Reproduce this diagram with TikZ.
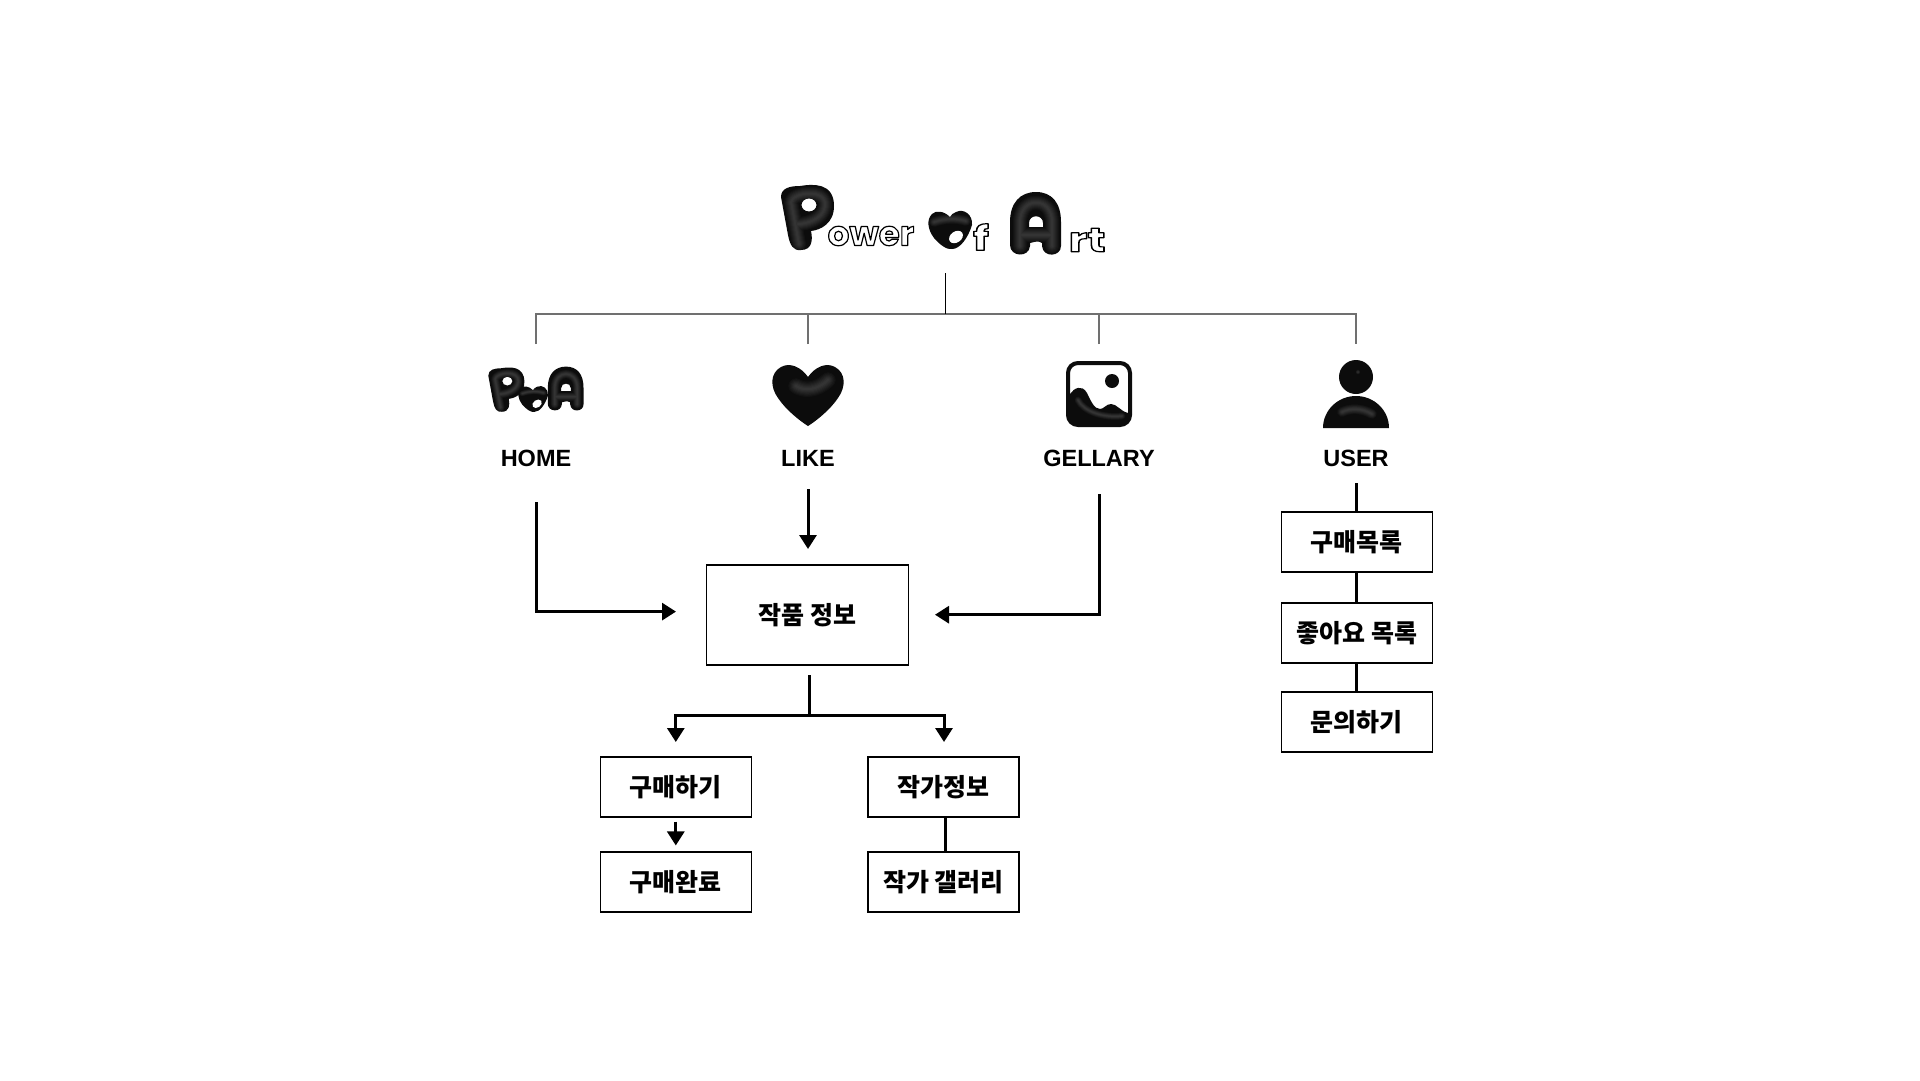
\documentclass[tikz,border=0pt]{standalone}
\usepackage{fontspec}
\setmainfont{Liberation Sans}
\newfontfamily\krfont{Noto Sans CJK KR}
\newfontfamily\titlefont{Poppins}
\usetikzlibrary{arrows.meta}

\definecolor{puffblack}{HTML}{0C0C0C}
\definecolor{treegray}{HTML}{707070}

% soft grey ridge on the puffy shapes
\newcommand{\glowline}[2]{\foreach \w in {14,12,10,8,6,4,2}
    \draw[white, opacity=.028, line cap=round, line join=round, line width=#1*\w pt] #2;}
\newcommand{\outlinetext}[1]{{\color{white}\special{pdf:code 0 G 1.2 w 2 Tr 1 j}#1\special{pdf:code 0 Tr 1 w}}}

\tikzset{
    infobox/.style={draw=black, line width=1.1pt, fill=white, minimum width=151pt, minimum height=60pt,
        font=\fontsize{25}{28}\selectfont\krfont\bfseries},
    menulabel/.style={font=\fontsize{23.5}{28}\selectfont\bfseries},
    titlebit/.style={font=\fontsize{34}{40}\selectfont\titlefont\bfseries, inner sep=0pt},
    treeline/.style={treegray, line width=1.6pt},
    plainline/.style={draw=black, line width=3pt},
    flow/.style={plainline, -{Triangle[length=14pt,width=17pt]}},
    puff/.style={fill=puffblack, even odd rule},
    pics/puffP/.style={code={
        \fill[puff] (-26,-21) .. controls (-26,-30) and (-17,-32) .. (-7,-32)
            .. controls (5,-34) and (27,-36) .. (27,-12) .. controls (27,6) and (13,12) .. (4,13)
            .. controls (6,22) and (5,32) .. (-6,32) .. controls (-14,33) and (-17,27) .. (-19,17) -- cycle
            (2,-13) ellipse [x radius=7.5, y radius=6.5];
        \glowline{#1}{(-8,26) -- (-16,-16) .. controls (-14,-26) and (20,-30) .. (18,-12) .. controls (16,2) and (-2,6) .. (-9,6)}
    }},
    pics/puffA/.style={code={
        \fill[puff] (-26,21) -- (-26,-2) .. controls (-26,-21) and (-16,-32) .. (0,-32)
            .. controls (16,-32) and (25,-21) .. (25,-2) -- (25,22) .. controls (25,33) and (7,34) .. (6,22)
            -- (6,19) .. controls (2,17) .. (-6,19) -- (-6,22) .. controls (-7,34) and (-26,33) .. (-26,21) -- cycle
            (-7,3) -- (-7,-1) .. controls (-7,-10) and (7,-10) .. (7,-1) -- (7,3) -- cycle;
        \glowline{#1}{(-16,22) -- (-16,-2) .. controls (-16,-28) and (16,-28) .. (16,-2) -- (16,22) (-14,11) -- (14,11)}
    }},
    pics/puffO/.style={code={
        \fill[puff] (0,-13) .. controls (-6,-19) and (-14,-20) .. (-18,-16) .. controls (-24,-10) and (-22,0) .. (-16,8)
            .. controls (-10,15) and (-3,20) .. (2,19) .. controls (10,19) and (18,8) .. (22,-5)
            .. controls (23,-15) and (14,-22) .. (6,-18) .. controls (3,-17) and (1,-15) .. (0,-13) -- cycle;
        \glowline{#1}{(-16,-8) .. controls (-4,-12) and (6,-12) .. (16,-9)}
        \fill[white, shift={(6,7)}, rotate=35] (0,0) ellipse [x radius=7.5, y radius=5.5];
    }},
    pics/puffheart/.style={code={
        \fill[puff] (0,-18) .. controls (-7,-28) and (-18,-33) .. (-27,-28) .. controls (-38,-22) and (-38,-8) .. (-30,3)
            .. controls (-22,15) and (-8,26) .. (0,31) .. controls (8,26) and (22,15) .. (30,3)
            .. controls (38,-8) and (38,-22) .. (27,-28) .. controls (18,-33) and (7,-28) .. (0,-18) -- cycle;
        \glowline{#1}{(-12,-9) .. controls (-4,-4) and (8,-4) .. (20,-15)}
    }},
}

\begin{document}
\begin{tikzpicture}[x=1pt,y=-1pt]
    \useasboundingbox (0,0) rectangle (1920,1080);
    \fill[white] (0,0) rectangle (1920,1080);

    % Title logo
    \pic at (807,218) {puffP=1};
    \node[titlebit] (titleower) at (871,236) {\outlinetext{ower}};
    \pic at (950,230) {puffO=.7};
    \node[titlebit, xscale=1.3] (titlef) at (981,237) {\outlinetext{f}};
    \pic at (1036,224) {puffA=1};
    \node[titlebit, xscale=1.3] (titlert) at (1087,240) {\outlinetext{rt}};

    % Menu icons
    \pic[scale=.68] at (506,390) {puffP=.6};
    \pic[scale=.7] at (566,389) {puffA=.6};
    \pic[scale=.68] at (533,399) {puffO=.4};

    \pic at (808,395) {puffheart=1.1};

    \draw[puffblack, line width=4pt, rounded corners=10pt, fill=white] (1068,363) rectangle (1130,425);
    \fill[puffblack] (1070,423) -- (1070,394) .. controls (1074,388) and (1082,384) .. (1087,393)
        .. controls (1091,401) and (1094,409) .. (1100,409) .. controls (1104,409) and (1106,404) .. (1111,404)
        .. controls (1117,404) and (1120,411) .. (1128,413) -- (1128,423) -- cycle;
    \fill[puffblack] (1112,381) circle (7);
    \glowline{.5}{(1078,400) .. controls (1084,412) and (1104,418) .. (1122,416)}

    \fill[puffblack] (1356,377) circle (17);
    \fill[puffblack] (1323,428) arc [start angle=180, end angle=360, x radius=33, y radius=32] -- cycle;
    \glowline{.35}{(1358,372) -- (1358,372.1)}
    \glowline{.7}{(1342,412) .. controls (1350,408) and (1362,408) .. (1372,414)}

    % Menu labels
    \node[menulabel] (home) at (536,458) {HOME};
    \node[menulabel] (like) at (808,458) {LIKE};
    \node[menulabel] (gellary) at (1099,458) {GELLARY};
    \node[menulabel] (user) at (1356,458) {USER};

    % Boxes
    \node[infobox, minimum width=202pt, minimum height=100pt] (artinfo) at (807.5,615) {작품 정보};
    \node[infobox] (buy) at (675.8,787) {구매하기};
    \node[infobox] (buydone) at (675.8,882) {구매완료};
    \node[infobox] (artist) at (943.5,787) {작가정보};
    \node[infobox] (artistgal) at (943.5,882) {작가 갤러리};
    \node[infobox] (buylist) at (1356.8,542) {구매목록};
    \node[infobox] (likelist) at (1356.8,633) {좋아요 목록};
    \node[infobox] (contact) at (1356.8,722) {문의하기};

    % Tree under the logo
    \coordinate (rootstem) at (945.5,273);
    \coordinate (bus) at (945.5,314);
    \coordinate (homedrop) at (536,344);
    \coordinate (likedrop) at (808,344);
    \coordinate (gellarydrop) at (1099,344);
    \coordinate (userdrop) at (1356,344);
    \draw[treeline] (homedrop) |- (bus) -| (userdrop);
    \draw[treeline] (likedrop) -- (likedrop |- bus);
    \draw[treeline] (gellarydrop) -- (gellarydrop |- bus);
    \draw[black, line width=1.6pt] (rootstem) -- (bus);

    % Arrows into the info box
    \coordinate (homeout) at (536,502);
    \coordinate (homein) at (676,611.6);
    \coordinate (likeout) at (808,489);
    \coordinate (likein) at (808,549);
    \coordinate (gellaryout) at (1099,494);
    \coordinate (gellaryin) at (935,614.7);
    \draw[flow] (homeout) |- (homein);
    \draw[flow] (likeout) -- (likein);
    \draw[flow] (gellaryout) |- (gellaryin);

    % Below the info box
    \coordinate (infoout) at (809,675);
    \coordinate (split) at (809,715);
    \coordinate (buybranch) at (675.8,742);
    \coordinate (artistbranch) at (944,742);
    \draw[plainline] (infoout) -- (split);
    \draw[flow] (split) -| (buybranch);
    \draw[flow] (split) -| (artistbranch);
    \draw[flow, shorten <=4pt, shorten >=6pt] (buy.south) -- (buydone.north);
    \draw[plainline] ([xshift=1.5pt]artist.south) -- ([xshift=1.5pt]artistgal.north);

    % User column
    \coordinate (userout) at (1356,483);
    \draw[plainline] (userout) -- (userout |- buylist.north);
    \draw[plainline] ([xshift=-.8pt]buylist.south) -- ([xshift=-.8pt]likelist.north);
    \draw[plainline] ([xshift=-.8pt]likelist.south) -- ([xshift=-.8pt]contact.north);
\end{tikzpicture}
\end{document}
